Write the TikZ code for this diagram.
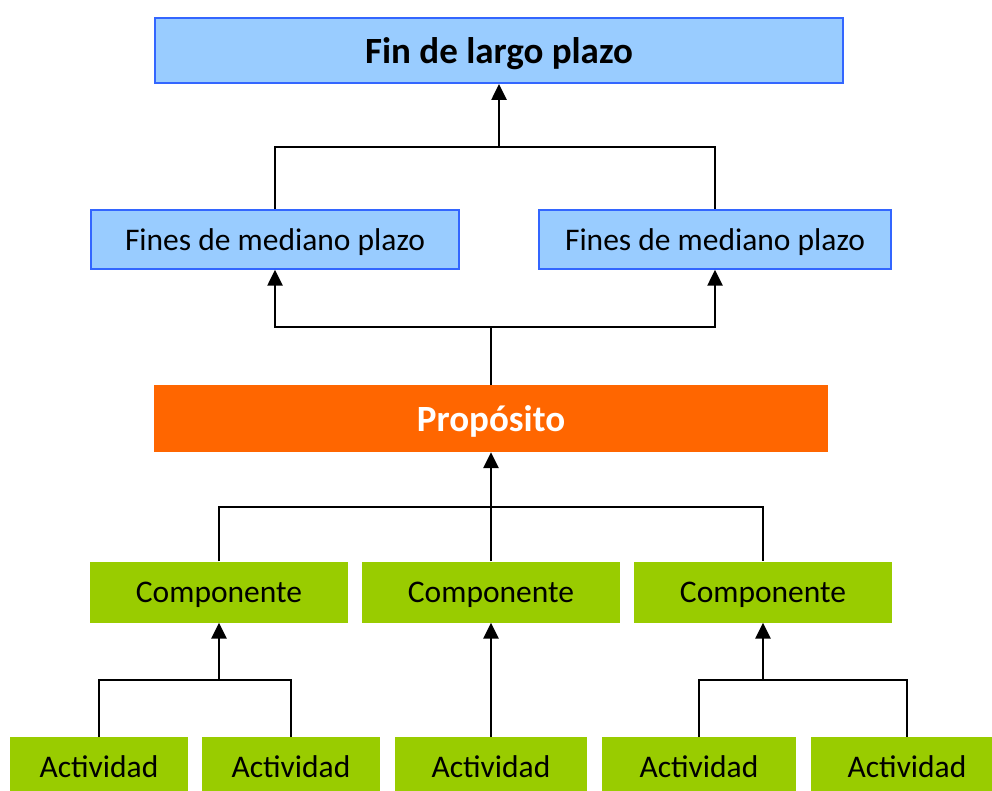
\documentclass[tikz,border=0pt]{standalone}
\usepackage{fontspec}
\setmainfont{Carlito}
\usetikzlibrary{arrows.meta}

\definecolor{cielo}{HTML}{99CCFF}
\definecolor{azul}{HTML}{3366FF}
\definecolor{naranja}{HTML}{FF6600}
\definecolor{verde}{HTML}{99CC00}

\tikzset{
    caja/.style={inner sep=0pt, text depth=0pt, font=\fontsize{31.5}{38}\selectfont},
    finbox/.style={caja, fill=cielo, draw=azul, line width=2pt, font=\fontsize{37}{44}\selectfont\bfseries},
    medbox/.style={caja, fill=cielo, draw=azul, line width=1.5pt, minimum height=59pt},
    propbox/.style={caja, fill=naranja, text=white, minimum width=674pt, minimum height=67pt, font=\fontsize{37}{44}\selectfont\bfseries},
    compbox/.style={caja, fill=verde, minimum width=258pt, minimum height=61pt},
    actbox/.style={caja, fill=verde, minimum height=60pt},
    conn/.style={line width=2.6pt},
    arr/.style={conn, -{Triangle[width=15pt,length=16pt]}}
}

\begin{document}
\begin{tikzpicture}[x=1pt, y=-1pt]
    \useasboundingbox (0, 0) rectangle (992, 791);
    \clip (0, 0) rectangle (992, 791);
    \node[finbox, minimum width=688pt, minimum height=65pt] (fin) at (499, 50.5) {Fin de largo plazo};
    \node[medbox, minimum width=368pt] (med1) at (275, 239.5) {Fines de mediano plazo};
    \node[medbox, minimum width=352pt] (med2) at (715, 239.5) {Fines de mediano plazo};
    \node[propbox] (prop) at (491, 418.5) {Propósito};
    \node[compbox] (comp1) at (219, 592) {Componente};
    \node[compbox] (comp2) at (491, 592) {Componente};
    \node[compbox] (comp3) at (763, 592) {Componente};
    \node[actbox, minimum width=178pt] (act1) at (99, 767) {Actividad};
    \node[actbox, minimum width=178pt] (act2) at (291, 767) {Actividad};
    \node[actbox, minimum width=192pt] (act3) at (491, 767) {Actividad};
    \node[actbox, minimum width=194pt] (act4) at (699, 767) {Actividad};
    \node[actbox, minimum width=193pt] (act5) at (907, 767) {Actividad};

    \coordinate (jfin) at (499, 147);
    \draw[conn] (med1.north) |- (jfin) -| (med2.north);
    \draw[arr] (jfin) -- (fin.south);

    \coordinate (jmed) at (491, 327);
    \draw[conn] (prop.north) -- (jmed);
    \draw[arr] (jmed) -| (med1.south);
    \draw[arr] (jmed) -| (med2.south);

    \coordinate (jprop) at (491, 507);
    \draw[conn] (comp1.north) |- (jprop) -| (comp3.north);
    \draw[arr] (comp2.north) -- (prop.south);

    \coordinate (jc1) at (219, 680);
    \draw[conn] (act1.north) |- (jc1) -| (act2.north);
    \draw[arr] (jc1) -- (comp1.south);
    \draw[arr] (act3.north) -- (comp2.south);
    \coordinate (jc3) at (763, 680);
    \draw[conn] (act4.north) |- (jc3) -| (act5.north);
    \draw[arr] (jc3) -- (comp3.south);
\end{tikzpicture}
\end{document}
